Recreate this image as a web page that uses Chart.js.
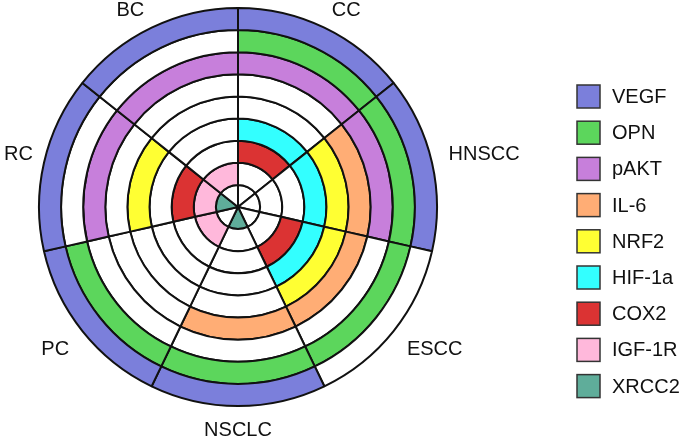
<!DOCTYPE html>
<html lang="en">
<head>
<meta charset="UTF-8">
<title>Biomarkers by cancer type</title>
<script src="https://cdn.jsdelivr.net/npm/chart.js@4.4.0/dist/chart.umd.min.js"></script>
<style>
  html, body { margin: 0; padding: 0; background: #fff; }
  #wrap { width: 685px; height: 440px; }
</style>
</head>
<body>
<div id="wrap"><canvas id="chart" width="685" height="440"></canvas></div>
<script>
// cancer types, clockwise from 12 o'clock
const cancers = ['CC', 'HNSCC', 'ESCC', 'NSCLC', 'PC', 'RC', 'BC'];

// markers, outer ring first
const markers = ['VEGF', 'OPN', 'pAKT', 'IL-6', 'NRF2', 'HIF-1a', 'COX2', 'IGF-1R', 'XRCC2'];
const markerColors = ['#7b7fdb', '#5cd65c', '#c77fdb', '#ffad75', '#ffff33', '#33ffff', '#db3333', '#ffb8db', '#5fad9a'];

// 1 = marker present for that cancer type (same order as cancers)
const VEGF  = [1, 1, 0, 1, 1, 1, 1];
const OPN   = [1, 1, 1, 1, 1, 0, 0];
const pAKT  = [1, 1, 0, 0, 0, 1, 1];
const IL6   = [0, 1, 1, 1, 0, 0, 0];
const NRF2  = [0, 1, 1, 0, 0, 1, 0];
const HIF1a = [1, 1, 1, 0, 0, 0, 0];
const COX2  = [1, 0, 1, 0, 0, 1, 0];
const IGF1R = [0, 0, 0, 0, 1, 1, 1];
const XRCC2 = [0, 0, 0, 1, 0, 1, 0];

// every sector has the same width
const sectorSize = [1, 1, 1, 1, 1, 1, 1];

const presence = [VEGF, OPN, pAKT, IL6, NRF2, HIF1a, COX2, IGF1R, XRCC2];

const datasets = markers.map((m, k) => ({
  label: m,
  data: sectorSize,
  backgroundColor: presence[k].map(v => v ? markerColors[k] : '#ffffff'),
  borderColor: '#111',
  borderWidth: 2
}));

const FONT = '20px "Liberation Sans", Arial, sans-serif';

// cancer names round the wheel + marker legend on the right
const labelsPlugin = {
  id: 'labelsPlugin',
  afterDraw(chart) {
    const ctx = chart.ctx;
    const arcs = chart.getDatasetMeta(0).data;
    ctx.save();
    ctx.font = FONT;
    ctx.fillStyle = '#111';
    ctx.textAlign = 'center';
    ctx.textBaseline = 'middle';
    arcs.forEach((arc, i) => {
      const a = (arc.startAngle + arc.endAngle) / 2;
      const r = arc.outerRadius + 17;
      const w = ctx.measureText(cancers[i]).width;
      const h = 15;
      const c = Math.cos(a), s = Math.sin(a);
      const sx = Math.max(-1, Math.min(1, c * 2.5));
      const sy = Math.max(-1, Math.min(1, s * 2.5));
      let x = arc.x + r * c + sx * w / 2;
      let y = arc.y + r * s + sy * h / 2;
      // keep labels inside the canvas
      x = Math.max(x, w / 2 + 4);
      y = Math.max(y, h / 2 + 3);
      ctx.fillText(cancers[i], x, y);
    });

    // legend
    const lx = 577, ly = 85, step = 36.2, box = 23;
    ctx.textAlign = 'left';
    markers.forEach((m, k) => {
      const y = ly + k * step;
      ctx.fillStyle = markerColors[k];
      ctx.fillRect(lx, y, box, box);
      ctx.strokeStyle = '#333';
      ctx.lineWidth = 1.5;
      ctx.strokeRect(lx, y, box, box);
      ctx.fillStyle = '#111';
      ctx.fillText(m, lx + 35, y + box / 2 + 1);
    });
    ctx.restore();
  }
};

new Chart(document.getElementById('chart'), {
  type: 'doughnut',
  data: { labels: cancers, datasets: datasets },
  options: {
    responsive: false,
    animation: false,
    cutout: 0,
    layout: { padding: { left: 38, right: 247, top: 7, bottom: 33 } },
    plugins: {
      legend: { display: false },
      tooltip: { enabled: false }
    }
  },
  plugins: [labelsPlugin]
});
</script>
</body>
</html>
